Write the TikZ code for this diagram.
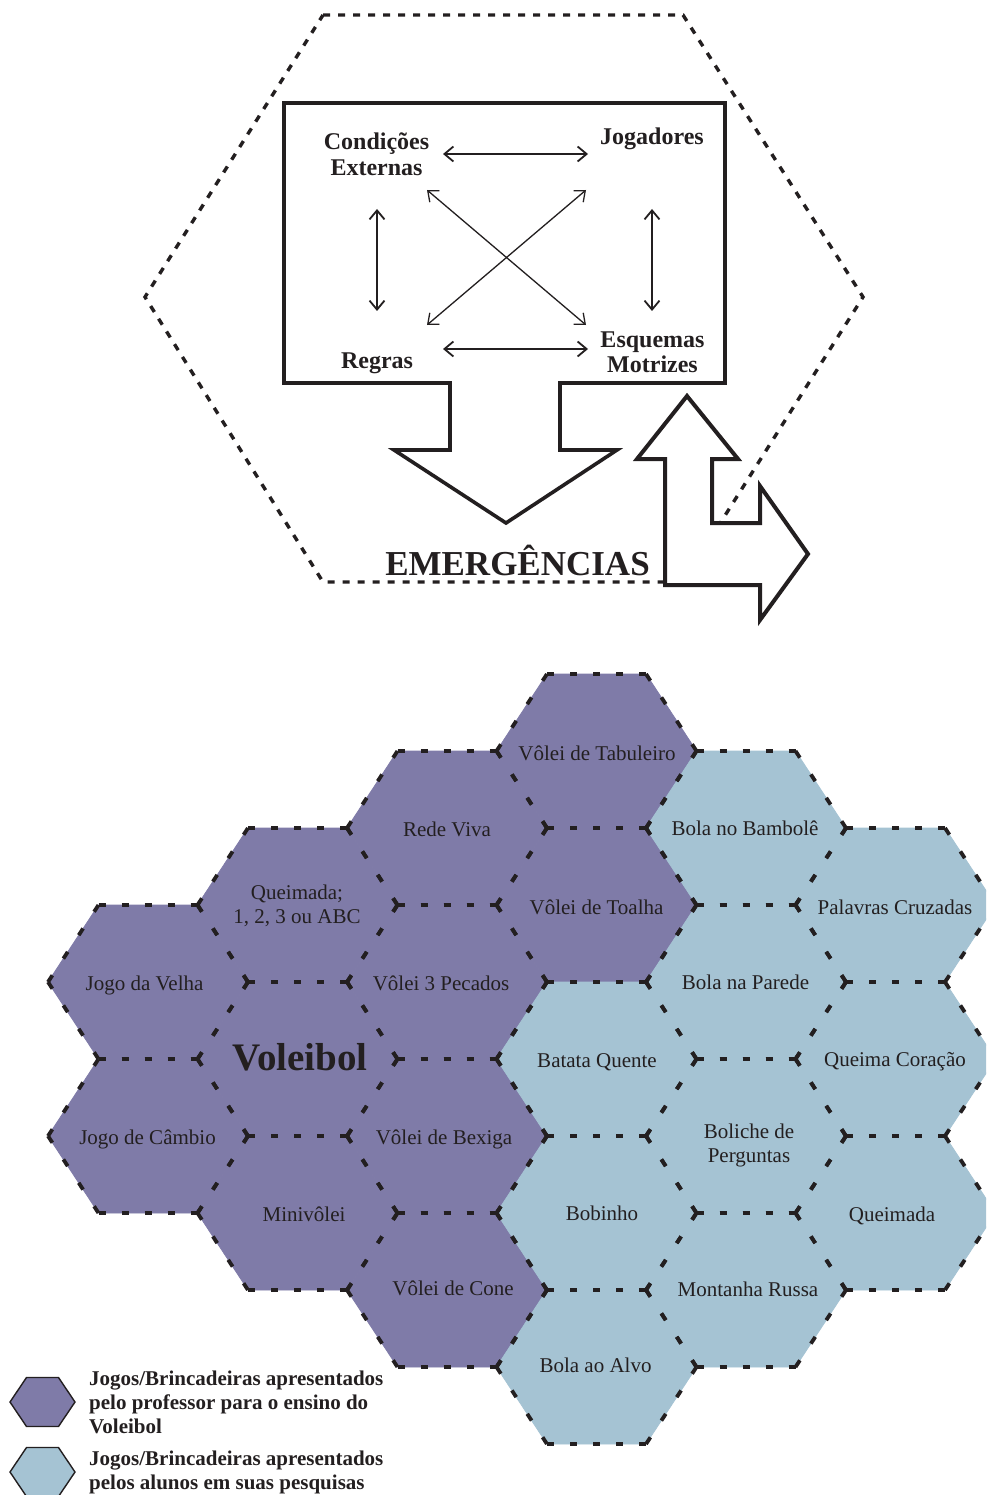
\documentclass[tikz,border=0pt]{standalone}
\usepackage{fontspec}
\setmainfont{Liberation Serif}
\usetikzlibrary{arrows.meta}
\definecolor{ink}{HTML}{231F20}
\definecolor{profcol}{HTML}{7F7BA8}
\definecolor{alunocol}{HTML}{A5C3D3}

% flat-top hexagon: half width, half top edge, half height
\newcommand\hexW{100}
\newcommand\hexA{49.5}
\newcommand\hexH{77}

\newcommand\hexfill[3]{%
  \filldraw[fill=#3,draw=#3,line width=0.8pt]
    ({#1-\hexW},#2) -- ({#1-\hexA},{#2-\hexH}) -- ({#1+\hexA},{#2-\hexH})
    -- ({#1+\hexW},#2) -- ({#1+\hexA},{#2+\hexH}) -- ({#1-\hexA},{#2+\hexH}) -- cycle;}

% every edge is drawn from its left end, so shared edges overlap exactly
\newcommand\hexborder[2]{%
  \draw[hedge] ({#1-\hexA},{#2-\hexH}) -- ({#1+\hexA},{#2-\hexH});
  \draw[hedge] ({#1-\hexA},{#2+\hexH}) -- ({#1+\hexA},{#2+\hexH});
  \draw[sedge] ({#1-\hexW},#2) -- ({#1-\hexA},{#2-\hexH});
  \draw[sedge] ({#1-\hexW},#2) -- ({#1-\hexA},{#2+\hexH});
  \draw[sedge] ({#1+\hexA},{#2-\hexH}) -- ({#1+\hexW},#2);
  \draw[sedge] ({#1+\hexA},{#2+\hexH}) -- ({#1+\hexW},#2);}

\newcommand\hexlist{148/982/profcol, 148/1136/profcol,
  297.5/905/profcol, 297.5/1059/profcol, 297.5/1213/profcol,
  447/828/profcol, 447/982/profcol, 447/1136/profcol, 447/1290/profcol,
  596.5/751/profcol, 596.5/905/profcol, 596.5/1059/alunocol, 596.5/1213/alunocol, 596.5/1367/alunocol,
  746/828/alunocol, 746/982/alunocol, 746/1136/alunocol, 746/1290/alunocol,
  895.5/905/alunocol, 895.5/1059/alunocol, 895.5/1213/alunocol}

\begin{document}
\begin{tikzpicture}[x=1pt,y=-1pt,
  bigdash/.style={draw=ink,line width=3.4pt,dash pattern=on 7pt off 8pt},
  frameshape/.style={draw=ink,fill=white,line width=3.6pt,line join=miter},
  link/.style={draw=ink,line width=1.8pt,{Straight Barb[length=9pt,width=15pt]}-{Straight Barb[length=9pt,width=15pt]}},
  thinlink/.style={link,line width=1.3pt},
  toplbl/.style={text=ink,font=\bfseries\fontsize{24}{26}\selectfont,align=center,anchor=base,inner sep=0pt},
  hedge/.style={draw=ink,line width=3.8pt,dash pattern=on 7pt off 16pt},
  sedge/.style={draw=ink,line width=3.8pt,dash pattern=on 8pt off 20pt},
  hlbl/.style={text=ink,font=\fontsize{21}{24}\selectfont,align=center,anchor=base,inner sep=0pt},
  legtxt/.style={text=ink,font=\bfseries\fontsize{21}{24}\selectfont,align=left,anchor=base west,inner sep=0pt},
  leghex/.style={draw=ink,line width=1.4pt,line join=miter}
]
\useasboundingbox (0,0) rectangle (986,1495);

% ---------- upper scheme ----------
\draw[bigdash] (323,15) -- (683,15) -- (863,297) -- (683,582) -- (323,582) -- (145,297) -- cycle;

% frame with the downward arrow
\draw[frameshape] (284,103) -- (725,103) -- (725,383) -- (560,383) -- (560,450)
  -- (617,450) -- (506,523) -- (394,450) -- (450,450) -- (450,383) -- (284,383) -- cycle;

% arrow going up and turning right
\draw[frameshape,line width=4pt] (687,396) -- (738,459) -- (712,459) -- (712,523) -- (760,523)
  -- (760,486) -- (808,554) -- (760,620) -- (760,585) -- (665,585) -- (665,459)
  -- (637,459) -- cycle;

% (base of a two-line label = baseline of its last line)
\node[toplbl] (cond) at (376.5,176) {Condições\\Externas};
\node[toplbl] (jog)  at (652,145) {Jogadores};
\node[toplbl] (reg)  at (377,368) {Regras};
\node[toplbl,font=\bfseries\fontsize{24}{25}\selectfont] (esq) at (652.5,372) {Esquemas\\Motrizes};
\node[text=ink,font=\bfseries\fontsize{35}{40}\selectfont,anchor=base,inner sep=0pt] (emerg) at (517.5,575) {EMERGÊNCIAS};

\draw[link] ([shift={(66.5,-22)}]cond.base) -- ([shift={(-64,9)}]jog.base);
\draw[link] ([shift={(66,-19)}]reg.base) -- ([shift={(-64.5,-23)}]esq.base);
\draw[link] ([shift={(0.5,33)}]cond.base) -- ([shift={(0,-57)}]reg.base);
\draw[link] ([shift={(0,64)}]jog.base) -- ([shift={(-0.5,-61)}]esq.base);
\draw[thinlink] ([shift={(50.5,14)}]cond.base) -- ([shift={(-66.5,-47)}]esq.base);
\draw[thinlink] ([shift={(-66,45)}]jog.base) -- ([shift={(50,-43)}]reg.base);

% ---------- hexagon mosaic ----------
\begin{scope}
\clip (0,0) rectangle (986,1495);
\foreach \cx/\cy/\cc in \hexlist {\hexfill{\cx}{\cy}{\cc}}
\foreach \cx/\cy/\cc in \hexlist {\hexborder{\cx}{\cy}}
\end{scope}

\node[hlbl] (velha)    at (144.5,990)  {Jogo da Velha};
\node[hlbl] (cambio)   at (147.5,1144) {Jogo de Câmbio};
\node[hlbl] (queimabc) at (297,923)    {Queimada;\\1, 2, 3 ou ABC};
\node[hlbl,font=\bfseries\fontsize{39}{44}\selectfont] (volei) at (300,1070) {Voleibol};
\node[hlbl] (mini)     at (304,1221)   {Minivôlei};
\node[hlbl] (rede)     at (447,836)    {Rede Viva};
\node[hlbl] (pecados)  at (441,990)    {Vôlei 3 Pecados};
\node[hlbl] (bexiga)   at (444,1144)   {Vôlei de Bexiga};
\node[hlbl] (cone)     at (453,1295)   {Vôlei de Cone};
\node[hlbl] (tabul)    at (597,760)    {Vôlei de Tabuleiro};
\node[hlbl] (toalha)   at (596.5,914)  {Vôlei de Toalha};
\node[hlbl] (batata)   at (597,1067)   {Batata Quente};
\node[hlbl] (bobinho)  at (602,1220)   {Bobinho};
\node[hlbl] (alvo)     at (595.5,1372) {Bola ao Alvo};
\node[hlbl] (bambole)  at (745,835)    {Bola no Bambolê};
\node[hlbl] (parede)   at (745.5,989)  {Bola na Parede};
\node[hlbl] (boliche)  at (749,1162)   {Boliche de\\Perguntas};
\node[hlbl] (montanha) at (748,1296)   {Montanha Russa};
\node[hlbl] (palavras) at (895,914)    {Palavras Cruzadas};
\node[hlbl] (coracao)  at (895,1066)   {Queima Coração};
\node[hlbl] (queimada) at (892,1221)   {Queimada};

% ---------- legend ----------
\filldraw[leghex,fill=profcol] (10,1402) -- (26.5,1377.5) -- (58.5,1377.5) -- (75,1402)
  -- (58.5,1426.5) -- (26.5,1426.5) -- cycle;
\filldraw[leghex,fill=alunocol] (10,1472) -- (26.5,1447.5) -- (58.5,1447.5) -- (75,1472)
  -- (58.5,1496.5) -- (26.5,1496.5) -- cycle;
\node[legtxt] (legprof) at (89,1433) {Jogos/Brincadeiras apresentados\\pelo professor para o ensino do\\Voleibol};
\node[legtxt] (legalun) at (89,1489) {Jogos/Brincadeiras apresentados\\pelos alunos em suas pesquisas};
\end{tikzpicture}
\end{document}
